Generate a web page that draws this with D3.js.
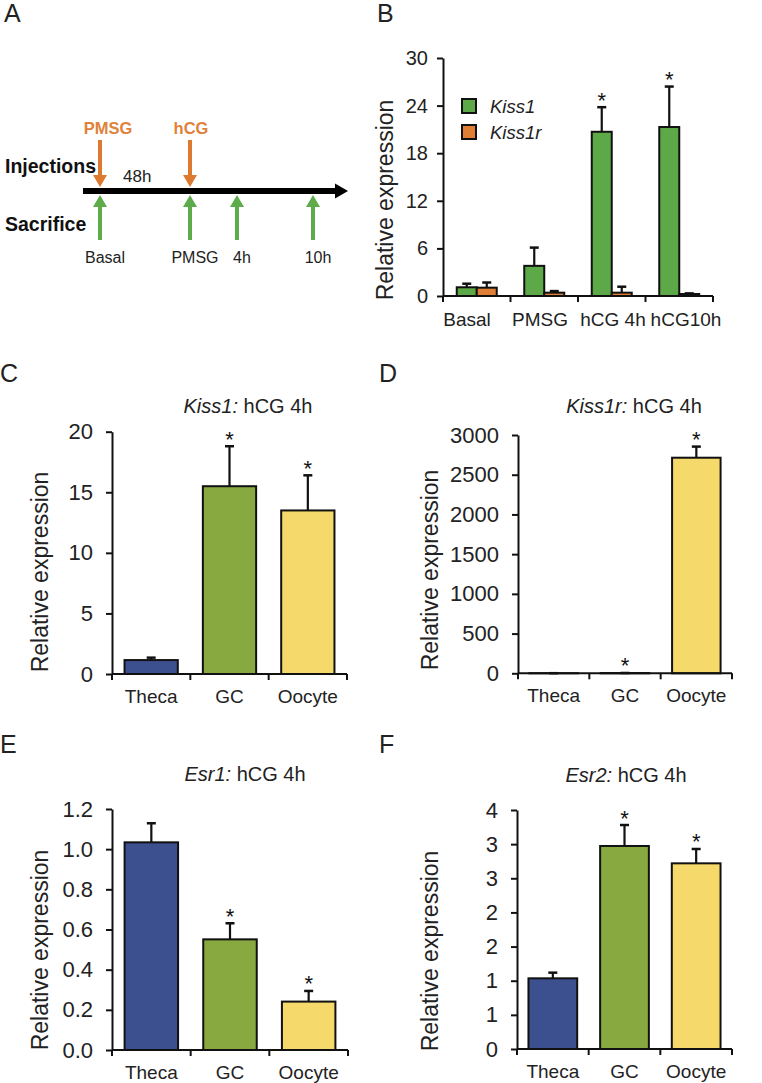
<!DOCTYPE html>
<html><head><meta charset="utf-8">
<script src="https://cdn.jsdelivr.net/npm/d3@7"></script>
<style>body{margin:0;background:#fff}svg{display:block}</style>
</head><body><svg id="c" width="762" height="1083"></svg>
<script>
// ---------------- DATA ----------------
// Panel A: timeline (hours)
const injectionLabels = ["PMSG", "hCG"];
const injectionTimes = [0, 48];
const sacrificeLabels = ["Basal", "PMSG", "4h", "10h"];
const sacrificeTimes = [0, 48, 52, 58];
const intervalLabel = "48h";

// Panel B
const catsB = ["Basal", "PMSG", "hCG 4h", "hCG10h"];
const seriesB = ["Kiss1", "Kiss1r"];
const kiss1Vals = [1.1, 3.8, 20.7, 21.3];
const kiss1Errs = [0.45, 2.3, 3.1, 5.1];
const kiss1rVals = [1.05, 0.42, 0.42, 0.25];
const kiss1rErrs = [0.65, 0.2, 0.75, 0.08];
const kiss1Stars = [false, false, true, true];
const ticksB = [0, 6, 12, 18, 24, 30];

// Panels C-F
const cellTypes = ["Theca", "GC", "Oocyte"];
const kiss1Cell = [1.15, 15.5, 13.5];
const kiss1CellErr = [0.2, 3.3, 2.9];
const kiss1CellStars = [false, true, true];
const ticksC = [0, 5, 10, 15, 20];

const kiss1rCell = [1, 3, 2714];
const kiss1rCellErr = [0.5, 1, 140];
const kiss1rCellStars = [false, true, true];
const ticksD = [0, 500, 1000, 1500, 2000, 2500, 3000];

const esr1Cell = [1.034, 0.551, 0.241];
const esr1CellErr = [0.095, 0.08, 0.053];
const esr1CellStars = [false, true, true];
const ticksE = [0, 0.2, 0.4, 0.6, 0.8, 1.0, 1.2];

const esr2Cell = [1.035, 2.973, 2.719];
const esr2CellErr = [0.083, 0.307, 0.21];
const esr2CellStars = [false, true, true];
const ticksF = [0, 0.5, 1, 1.5, 2, 2.5, 3, 3.5];
const tickLabelsF = ["0", "1", "1", "2", "2", "3", "3", "4"];

// ---------------- STYLE ----------------
const FONT = "'Liberation Sans', Arial, Helvetica, sans-serif";
const cellColors = ["#3c4f8f", "#88a93f", "#f5d96b"];
const seriesColors = ["#5da947", "#de7f35"];
const ORANGE = "#dd7a2f", GREEN = "#5dab4b";

const svg = d3.select("#c").style("font-family", FONT);

function panelLetter(t, x, y) {
  svg.append("text").attr("x", x).attr("y", y).attr("font-size", 25).attr("fill", "#222").text(t);
}

// ---------------- PANEL A ----------------
panelLetter("A", 4, 22);
{
  const g = svg.append("g");
  const tx = d3.scaleLinear().domain([0, 48, 52, 58]).range([100, 190, 237, 313]);
  g.append("line").attr("x1", 83).attr("x2", 337).attr("y1", 191).attr("y2", 191)
    .attr("stroke", "#000").attr("stroke-width", 6);
  g.append("path").attr("d", "M335,183.5L348,191L335,198.5Z").attr("fill", "#000");
  const injDx = [8, 1];
  injectionTimes.forEach((t, i) => {
    const x = tx(t);
    g.append("line").attr("x1", x).attr("x2", x).attr("y1", 140).attr("y2", 177)
      .attr("stroke", ORANGE).attr("stroke-width", 4);
    g.append("path").attr("d", `M${x - 7},175L${x + 7},175L${x},187Z`).attr("fill", ORANGE);
    g.append("text").attr("x", x + injDx[i]).attr("y", 134).attr("text-anchor", "middle")
      .attr("font-size", 16.5).attr("font-weight", "bold").attr("fill", "#e0823a").text(injectionLabels[i]);
  });
  sacrificeTimes.forEach((t, i) => {
    const x = tx(t);
    g.append("line").attr("x1", x).attr("x2", x).attr("y1", 204).attr("y2", 240)
      .attr("stroke", GREEN).attr("stroke-width", 4);
    g.append("path").attr("d", `M${x - 7},207L${x + 7},207L${x},195Z`).attr("fill", GREEN);
    g.append("text").attr("x", x + 5).attr("y", 263).attr("text-anchor", "middle")
      .attr("font-size", 16).attr("fill", "#222").text(sacrificeLabels[i]);
  });
  g.append("text").attr("x", 5).attr("y", 173).attr("font-size", 19.5).attr("font-weight", "bold").attr("fill", "#111").text("Injections");
  g.append("text").attr("x", 5).attr("y", 231).attr("font-size", 19.5).attr("font-weight", "bold").attr("fill", "#111").text("Sacrifice");
  g.append("text").attr("x", 123).attr("y", 182).attr("font-size", 17).attr("fill", "#222").text(intervalLabel);
}

// ---------------- helpers ----------------
function drawYAxis(g, y, x0, ticks, labels, fs, pad) {
  const ax = d3.axisLeft(y).tickValues(ticks).tickSize(6).tickSizeOuter(0).tickPadding(pad);
  ax.tickFormat(labels ? (d, i) => labels[i] : d3.format("d"));
  const a = g.append("g").attr("transform", `translate(${x0},0)`).call(ax);
  a.select(".domain").attr("stroke", "#111").attr("stroke-width", 2);
  a.selectAll(".tick line").attr("stroke", "#111").attr("stroke-width", 2);
  a.selectAll(".tick text").attr("font-size", fs).attr("font-family", FONT).attr("fill", "#222");
}
function drawXAxis(g, x, yBase, fs, labelDy, labelX) {
  const r = x.range();
  g.append("line").attr("x1", r[0]).attr("x2", r[1]).attr("y1", yBase).attr("y2", yBase)
    .attr("stroke", "#111").attr("stroke-width", 2);
  const bounds = x.domain().map(d => x(d)).concat([r[1]]);
  g.selectAll(null).data(bounds).join("line")
    .attr("x1", d => d).attr("x2", d => d).attr("y1", yBase).attr("y2", yBase + 6)
    .attr("stroke", "#111").attr("stroke-width", 2);
  const lx = labelX || (d => x(d) + x.bandwidth() / 2);
  g.selectAll(null).data(x.domain()).join("text")
    .attr("x", d => lx(d)).attr("y", yBase + labelDy)
    .attr("text-anchor", "middle").attr("font-size", fs).attr("fill", "#222").text(d => d);
}
function errBar(g, cx, yv, ye) {
  g.append("line").attr("x1", cx).attr("x2", cx).attr("y1", yv).attr("y2", ye)
    .attr("stroke", "#111").attr("stroke-width", 2.2);
  g.append("line").attr("x1", cx - 4.5).attr("x2", cx + 4.5).attr("y1", ye).attr("y2", ye)
    .attr("stroke", "#111").attr("stroke-width", 2.5);
}
// star centred ~13px above the top of the error bar
function star(g, cx, ye) {
  g.append("text").attr("x", cx).attr("y", ye + 0.5).attr("text-anchor", "middle")
    .attr("font-size", 22).attr("fill", "#111").text("*");
}
function yLabel(g, x, y) {
  g.append("text").attr("transform", `translate(${x},${y}) rotate(-90)`).attr("text-anchor", "middle")
    .attr("font-size", 23).attr("fill", "#222").text("Relative expression");
}

// ---------------- PANEL B ----------------
panelLetter("B", 377, 22);
{
  const g = svg.append("g");
  const x = d3.scaleBand().domain(catsB).range([443, 713]);
  const xl = d3.scalePoint().domain(catsB).range([467, 686]);
  const y = d3.scaleLinear().domain([0, 30]).range([296, 58]);
  const bw = 20;
  const vals = [kiss1Vals, kiss1rVals], errs = [kiss1Errs, kiss1rErrs];
  vals.forEach((vs, s) => {
    vs.forEach((v, i) => {
      const cx = x(catsB[i]) + x.bandwidth() / 2 + (s === 0 ? -bw / 2 : bw / 2);
      errBar(g, cx, y(v), y(v + errs[s][i]));
    });
  });
  vals.forEach((vs, s) => {
    g.selectAll(null).data(vs).join("rect")
      .attr("x", (d, i) => x(catsB[i]) + x.bandwidth() / 2 + (s === 0 ? -bw : 0))
      .attr("y", d => y(d)).attr("width", bw).attr("height", d => y(0) - y(d))
      .attr("fill", seriesColors[s]).attr("stroke", "#111").attr("stroke-width", 2);
  });
  kiss1Stars.forEach((s, i) => {
    if (s) star(g, x(catsB[i]) + x.bandwidth() / 2 - bw / 2, y(kiss1Vals[i] + kiss1Errs[i]));
  });
  drawYAxis(g, y, 443, ticksB, null, 20, 9);
  drawXAxis(g, x, 296, 19, 30, d => xl(d));
  yLabel(g, 393, 200);
  seriesB.forEach((s, i) => {
    g.append("rect").attr("x", 462).attr("y", 99 + i * 26).attr("width", 14).attr("height", 14)
      .attr("fill", seriesColors[i]).attr("stroke", "#111").attr("stroke-width", 2);
    g.append("text").attr("x", 490).attr("y", 113 + i * 26).attr("font-size", 18.5)
      .attr("font-style", "italic").attr("fill", "#222").text(s);
  });
}

// ---------------- PANELS C-F ----------------
function cellPanel(o) {
  const g = svg.append("g");
  const x = d3.scaleBand().domain(cellTypes).range([o.x0, o.x1]);
  const y = d3.scaleLinear().domain([0, o.max]).range([o.yb, o.yt]);
  const bw = x.bandwidth() * 0.68;
  o.vals.forEach((v, i) => {
    const cx = x(cellTypes[i]) + x.bandwidth() / 2;
    errBar(g, cx, y(v), y(v + o.errs[i]));
  });
  g.selectAll(null).data(o.vals).join("rect")
    .attr("x", (d, i) => x(cellTypes[i]) + (x.bandwidth() - bw) / 2)
    .attr("y", d => y(d)).attr("width", bw).attr("height", d => Math.max(0, y(0) - y(d)))
    .attr("fill", (d, i) => cellColors[i]).attr("stroke", "#111").attr("stroke-width", 2);
  o.stars.forEach((s, i) => {
    if (s) star(g, x(cellTypes[i]) + x.bandwidth() / 2, y(o.vals[i] + o.errs[i]));
  });
  drawYAxis(g, y, o.x0, o.ticks, o.labels, 22, 13);
  drawXAxis(g, x, o.yb, 19, 29);
  yLabel(g, o.ylx, o.yly);
  const t = g.append("text").attr("x", o.tx).attr("y", o.ty).attr("text-anchor", "middle")
    .attr("font-size", 20).attr("fill", "#222");
  t.append("tspan").attr("font-style", "italic").text(o.gene + ":");
  t.append("tspan").text(" hCG 4h");
}

panelLetter("C", 0, 382);
cellPanel({ vals: kiss1Cell, errs: kiss1CellErr, stars: kiss1CellStars, max: 20, ticks: ticksC,
  labels: null, x0: 112, x1: 347, yt: 431.7, yb: 674, ylx: 48, yly: 572, gene: "Kiss1", tx: 248, ty: 413 });

panelLetter("D", 379, 382);
cellPanel({ vals: kiss1rCell, errs: kiss1rCellErr, stars: kiss1rCellStars, max: 3000, ticks: ticksD,
  labels: null, x0: 518, x1: 732, yt: 435, yb: 673.3, ylx: 438, yly: 570, gene: "Kiss1r", tx: 634, ty: 413 });

panelLetter("E", 0, 753);
cellPanel({ vals: esr1Cell, errs: esr1CellErr, stars: esr1CellStars, max: 1.2, ticks: ticksE,
  labels: ticksE.map(d3.format(".1f")), x0: 112, x1: 348, yt: 809, yb: 1050, ylx: 48, yly: 950,
  gene: "Esr1", tx: 245, ty: 781 });

panelLetter("F", 379, 753);
cellPanel({ vals: esr2Cell, errs: esr2CellErr, stars: esr2CellStars, max: 3.5, ticks: ticksF,
  labels: tickLabelsF, x0: 517, x1: 732, yt: 810, yb: 1049, ylx: 438, yly: 951,
  gene: "Esr2", tx: 626, ty: 782 });
</script></body></html>
